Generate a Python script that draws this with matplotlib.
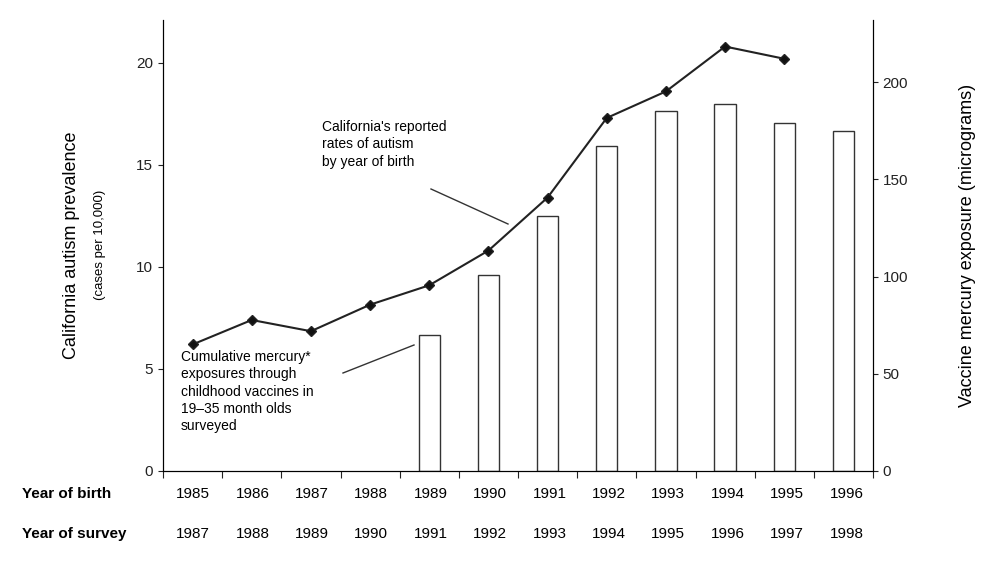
import numpy as np
import matplotlib.pyplot as plt

plt.rcParams['font.family'] = ['Liberation Sans', 'DejaVu Sans']

birth_years = ['1985', '1986', '1987', '1988', '1989', '1990',
               '1991', '1992', '1993', '1994', '1995', '1996']
survey_years = ['1987', '1988', '1989', '1990', '1991', '1992',
                '1993', '1994', '1995', '1996', '1997', '1998']
# autism prevalence, cases per 10,000 (1985-1995)
prevalence = [6.2, 7.4, 6.85, 8.15, 9.1, 10.8, 13.4, 17.3, 18.6, 20.8, 20.2]
# cumulative vaccine mercury exposure, micrograms (1989-1996)
bar_idx = [4, 5, 6, 7, 8, 9, 10, 11]
mercury = [70, 101, 131, 167, 185, 189, 179, 175]

fig = plt.figure(figsize=(10, 5.63), dpi=100)
ax = fig.add_axes([0.163, 1 - 471/563, 0.71, (471 - 20)/563])
ax2 = ax.twinx()

ax2.bar(bar_idx, mercury, width=0.36, facecolor='white',
        edgecolor='#333333', linewidth=1.0)
ax2.set_ylim(0, 232)
ax2.set_yticks([0, 50, 100, 150, 200])

ax.set_zorder(ax2.get_zorder() + 1)
ax.patch.set_visible(False)
x = np.arange(len(prevalence))
ax.plot(x, prevalence, color='#222222', lw=1.5, marker='D', ms=5,
        markerfacecolor='#111111')
ax.set_ylim(0, 22.1)
ax.set_xlim(-0.5, 11.45)
ax.set_yticks([0, 5, 10, 15, 20])
ax.set_xticks(np.arange(-0.5, 11.6, 1.0))
ax.set_xticklabels([])
ax.tick_params(axis='x', length=5)
for a in (ax, ax2):
    a.spines['top'].set_visible(False)
    a.tick_params(labelsize=11, colors='#222222')

fig.text(0.072, 1 - 245/563, 'California autism prevalence', rotation=90,
         fontsize=13, ha='center', va='center')
fig.text(0.100, 1 - 245/563, '(cases per 10,000)', rotation=90, fontsize=9.5,
         ha='center', va='center')
fig.text(0.968, 1 - 245/563, 'Vaccine mercury exposure (micrograms)',
         rotation=90, fontsize=13, ha='center', va='center')

# year rows below the axis
fig.text(0.022, 1 - 494/563, 'Year of birth', fontsize=11, fontweight='bold',
         va='center')
fig.text(0.022, 1 - 534/563, 'Year of survey', fontsize=11, fontweight='bold',
         va='center')
for i in range(len(birth_years)):
    xf = (193 + i * 59.4) / 1000
    fig.text(xf, 1 - 494/563, birth_years[i], fontsize=11, ha='center', va='center')
    fig.text(xf, 1 - 534/563, survey_years[i], fontsize=11, ha='center', va='center')

fig.text(0.322, 1 - 120/563,
         "California's reported\nrates of autism\nby year of birth",
         fontsize=10, va='top', linespacing=1.3)
fig.add_artist(plt.Line2D([0.431, 0.508], [1 - 189/563, 1 - 224/563],
                          color='#333333', lw=1))
fig.text(0.181, 1 - 350/563,
         "Cumulative mercury*\nexposures through\nchildhood vaccines in\n"
         "19\u201335 month olds\nsurveyed",
         fontsize=10, va='top', linespacing=1.3)
fig.add_artist(plt.Line2D([0.343, 0.414], [1 - 373/563, 1 - 345/563],
                          color='#333333', lw=1))

fig.savefig('out.png', dpi=100)
